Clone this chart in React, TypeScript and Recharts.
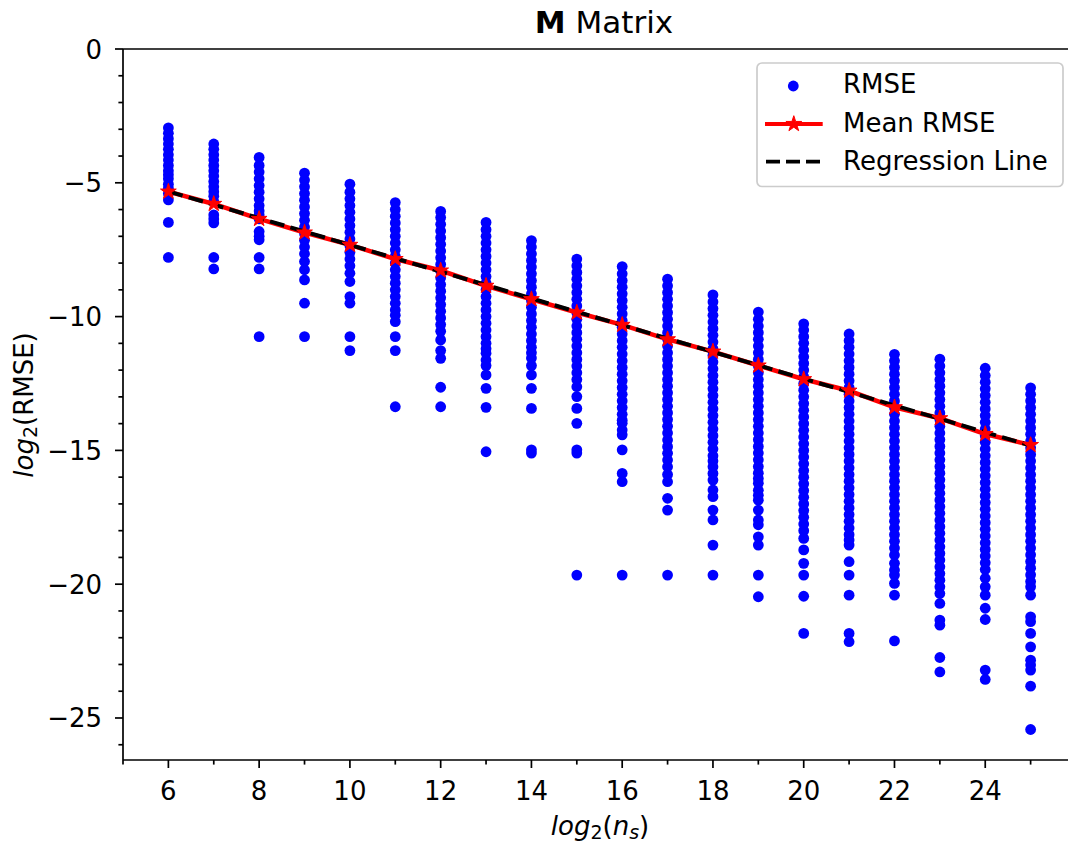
import React from 'react';
import { ComposedChart, Scatter, Line, XAxis, YAxis, ReferenceLine, Label } from 'recharts';

// ---- data ----
const nsLog2 = [6, 7, 8, 9, 10, 11, 12, 13, 14, 15, 16, 17, 18, 19, 20, 21, 22, 23, 24, 25];

const rmseAt6 = [-2.95, -3.15, -3.35, -3.55, -3.75, -3.95, -4.15, -4.35, -4.55, -4.7, -4.85, -5.05, -5.2, -5.4, -5.64, -6.48, -7.79];
const rmseAt7 = [-3.55, -3.75, -3.95, -4.15, -4.35, -4.55, -4.75, -4.95, -5.15, -5.33, -5.5, -5.7, -6.2, -6.35, -6.5, -7.79, -8.22];
const rmseAt8 = [-4.05, -4.35, -4.6, -4.85, -5.1, -5.35, -5.6, -5.85, -6.05, -6.2, -6.35, -6.82, -7.0, -7.13, -7.79, -8.22, -10.75];
const rmseAt9 = [-4.64, -4.9, -5.15, -5.4, -5.65, -5.9, -6.15, -6.4, -6.65, -6.9, -7.15, -7.4, -7.65, -7.94, -8.25, -8.63, -9.5, -10.75];
const rmseAt10 = [-5.05, -5.35, -5.6, -5.85, -6.1, -6.35, -6.6, -6.85, -7.1, -7.35, -7.6, -7.85, -8.1, -8.38, -8.69, -9.25, -9.5, -10.75, -11.27];
const rmseAt11 = [-5.74, -6.0, -6.25, -6.5, -6.75, -7.0, -7.25, -7.5, -7.75, -8.0, -8.25, -8.5, -8.75, -9.0, -9.25, -9.5, -9.75, -9.95, -10.19, -10.75, -11.27, -13.37];
const rmseAt12 = [-6.07, -6.3, -6.55, -6.8, -7.05, -7.3, -7.55, -7.8, -8.05, -8.3, -8.55, -8.8, -9.05, -9.3, -9.55, -9.8, -10.05, -10.3, -10.55, -10.87, -11.27, -11.56, -12.64, -13.37];
const rmseAt13 = [-6.48, -6.75, -7.0, -7.25, -7.5, -7.75, -8.0, -8.25, -8.5, -8.75, -9.0, -9.25, -9.5, -9.75, -10.0, -10.25, -10.5, -10.75, -11.0, -11.2, -11.37, -11.62, -11.83, -12.18, -12.68, -13.39, -15.05];
const rmseAt14 = [-7.16, -7.4, -7.65, -7.9, -8.15, -8.4, -8.65, -8.9, -9.15, -9.4, -9.65, -9.9, -10.15, -10.4, -10.65, -10.9, -11.15, -11.35, -11.55, -11.83, -12.18, -12.68, -13.43, -14.98, -15.1];
const rmseAt15 = [-7.85, -8.1, -8.35, -8.6, -8.85, -9.1, -9.35, -9.6, -9.85, -10.1, -10.35, -10.6, -10.85, -11.1, -11.35, -11.6, -11.85, -12.1, -12.35, -12.62, -12.99, -13.43, -13.99, -14.98, -15.1, -19.66];
const rmseAt16 = [-8.13, -8.4, -8.65, -8.9, -9.15, -9.4, -9.65, -9.9, -10.15, -10.4, -10.65, -10.9, -11.15, -11.4, -11.65, -11.9, -12.15, -12.4, -12.65, -12.9, -13.15, -13.4, -13.65, -13.87, -13.99, -14.24, -14.42, -14.98, -15.86, -16.17, -19.66];
const rmseAt17 = [-8.6, -8.85, -9.1, -9.35, -9.6, -9.85, -10.1, -10.35, -10.6, -10.85, -11.1, -11.35, -11.6, -11.85, -12.1, -12.35, -12.6, -12.85, -13.1, -13.35, -13.6, -13.85, -14.1, -14.35, -14.61, -14.86, -15.11, -15.36, -15.61, -15.9, -16.17, -16.79, -17.23, -19.66];
const rmseAt18 = [-9.19, -9.45, -9.7, -9.95, -10.2, -10.45, -10.7, -10.95, -11.2, -11.45, -11.7, -11.95, -12.2, -12.45, -12.7, -12.95, -13.2, -13.45, -13.7, -13.95, -14.2, -14.45, -14.7, -14.95, -15.2, -15.4, -15.61, -15.86, -16.11, -16.48, -16.73, -17.23, -17.6, -18.54, -19.66];
const rmseAt19 = [-9.83, -10.1, -10.35, -10.6, -10.85, -11.1, -11.35, -11.6, -11.85, -12.1, -12.35, -12.6, -12.85, -13.1, -13.35, -13.6, -13.85, -14.1, -14.35, -14.6, -14.85, -15.1, -15.35, -15.6, -15.85, -16.05, -16.23, -16.49, -16.68, -16.86, -17.23, -17.6, -17.78, -18.23, -18.54, -19.66, -20.47];
const rmseAt20 = [-10.27, -10.5, -10.75, -11.0, -11.25, -11.5, -11.75, -12.0, -12.25, -12.5, -12.75, -13.0, -13.25, -13.5, -13.75, -14.0, -14.25, -14.5, -14.75, -15.0, -15.25, -15.5, -15.75, -16.0, -16.25, -16.5, -16.75, -17.0, -17.25, -17.5, -17.75, -18.0, -18.29, -18.72, -19.22, -19.66, -20.45, -21.84];
const rmseAt21 = [-10.65, -10.9, -11.15, -11.4, -11.65, -11.9, -12.15, -12.4, -12.65, -12.9, -13.15, -13.4, -13.65, -13.9, -14.15, -14.4, -14.65, -14.9, -15.15, -15.4, -15.65, -15.9, -16.15, -16.4, -16.65, -16.9, -17.15, -17.4, -17.65, -17.9, -18.15, -18.35, -18.54, -19.16, -19.66, -20.41, -21.84, -22.15];
const rmseAt22 = [-11.41, -11.65, -11.9, -12.15, -12.4, -12.65, -12.9, -13.15, -13.4, -13.65, -13.9, -14.15, -14.4, -14.65, -14.9, -15.15, -15.4, -15.65, -15.9, -16.15, -16.4, -16.65, -16.9, -17.15, -17.4, -17.65, -17.9, -18.15, -18.4, -18.65, -18.91, -19.22, -19.47, -19.66, -19.97, -20.41, -22.12];
const rmseAt23 = [-11.59, -11.85, -12.1, -12.35, -12.6, -12.85, -13.1, -13.35, -13.6, -13.85, -14.1, -14.35, -14.6, -14.85, -15.1, -15.35, -15.6, -15.85, -16.1, -16.35, -16.6, -16.85, -17.1, -17.35, -17.6, -17.85, -18.1, -18.35, -18.6, -18.85, -19.1, -19.35, -19.6, -19.85, -20.1, -20.35, -20.72, -21.34, -21.53, -22.74, -23.28];
const rmseAt24 = [-11.93, -12.2, -12.45, -12.7, -12.95, -13.2, -13.45, -13.7, -13.95, -14.2, -14.45, -14.7, -14.95, -15.2, -15.45, -15.7, -15.95, -16.2, -16.45, -16.7, -16.95, -17.2, -17.45, -17.7, -17.95, -18.2, -18.45, -18.7, -18.95, -19.2, -19.45, -19.78, -20.1, -20.41, -20.9, -21.32, -23.21, -23.56];
const rmseAt25 = [-12.66, -12.9, -13.15, -13.4, -13.65, -13.9, -14.15, -14.4, -14.65, -14.9, -15.15, -15.4, -15.65, -15.9, -16.15, -16.4, -16.65, -16.9, -17.15, -17.4, -17.65, -17.9, -18.15, -18.4, -18.65, -18.9, -19.15, -19.4, -19.65, -19.9, -20.1, -20.41, -21.22, -21.4, -21.84, -22.34, -22.84, -23.02, -23.21, -23.81, -25.43];

const rmseColumns = [rmseAt6, rmseAt7, rmseAt8, rmseAt9, rmseAt10, rmseAt11, rmseAt12, rmseAt13, rmseAt14, rmseAt15, rmseAt16, rmseAt17, rmseAt18, rmseAt19, rmseAt20, rmseAt21, rmseAt22, rmseAt23, rmseAt24, rmseAt25];

const meanRmse = [-5.33, -5.79, -6.35, -6.86, -7.32, -7.85, -8.28, -8.85, -9.35, -9.85, -10.31, -10.85, -11.31, -11.83, -12.34, -12.77, -13.39, -13.8, -14.39, -14.8];

const regressionX = [6, 25];
const regressionY = [-5.32, -14.82];

const xTicks = [5, 6, 7, 8, 9, 10, 11, 12, 13, 14, 15, 16, 17, 18, 19, 20, 21, 22, 23, 24, 25, 26];
const yTicks = [0, -1, -2, -3, -4, -5, -6, -7, -8, -9, -10, -11, -12, -13, -14, -15, -16, -17, -18, -19, -20, -21, -22, -23, -24, -25, -26];

// ---- derived tables ----
const scatterData = rmseColumns.flatMap((col, i) => col.map((v) => ({ x: nsLog2[i], y: v })));
const meanData = nsLog2.map((x, i) => ({ x, y: meanRmse[i] }));
const regressionData = regressionX.map((x, i) => ({ x, y: regressionY[i] }));

const FONT = 'DejaVu Sans';
const FS = 26;
const BLUE = '#0000ff';
const RED = '#ff0000';

function starPath(cx: number, cy: number, r: number) {
  const inner = r * 0.381966;
  let d = '';
  for (let k = 0; k < 10; k++) {
    const rad = k % 2 === 0 ? r : inner;
    const a = (-90 + k * 36) * Math.PI / 180;
    const px = cx + rad * Math.cos(a);
    const py = cy + rad * Math.sin(a);
    d += (k === 0 ? 'M' : 'L') + px.toFixed(2) + ',' + py.toFixed(2);
  }
  return d + 'Z';
}

const fmt = (v: number) => String(v).replace('-', '\u2212');

const XTick = (props: any) => {
  const { x, y, payload } = props;
  const v = payload.value;
  const major = v % 2 === 0;
  return (
    <g>
      <line x1={x} x2={x} y1={y} y2={y + (major ? 8 : 4.6)} stroke="#000" strokeWidth={1.7} />
      {major && v <= 24 ? (
        <text x={x} y={y + 40} textAnchor="middle" fontSize={FS} fontFamily={FONT} fill="#000">{fmt(v)}</text>
      ) : null}
    </g>
  );
};

const YTick = (props: any) => {
  const { x, y, payload } = props;
  const v = payload.value;
  const major = v % 5 === 0;
  return (
    <g>
      <line x1={x} x2={x - (major ? 8 : 4.6)} y1={y} y2={y} stroke="#000" strokeWidth={1.7} />
      {major ? (
        <text x={x - 21} y={y + 9.5} textAnchor="end" fontSize={FS} fontFamily={FONT} fill="#000">{fmt(v)}</text>
      ) : null}
    </g>
  );
};

const Dot = (props: any) => {
  const { cx, cy } = props;
  if (cx == null || cy == null) return <g />;
  return <circle cx={cx} cy={cy} r={5.4} fill={BLUE} />;
};

const Star = (props: any) => {
  const { cx, cy, index } = props;
  if (cx == null || cy == null) return <g key={index} />;
  return <path key={index} d={starPath(cx, cy, 8.3)} fill={RED} stroke={RED} strokeWidth={1} />;
};

const XLabel = () => (
  <text x={600} y={835} textAnchor="middle" fontSize={FS} fontFamily={FONT} fill="#000">
    <tspan fontStyle="italic">log</tspan>
    <tspan fontSize={19} dy={4}>2</tspan>
    <tspan dy={-4}>(</tspan>
    <tspan fontStyle="italic">n</tspan>
    <tspan fontStyle="italic" fontSize={19} dy={4}>s</tspan>
    <tspan dy={-4}>)</tspan>
  </text>
);

const YLabel = () => (
  <text x={33} y={405} transform="rotate(-90 33 405)" textAnchor="middle" fontSize={FS} fontFamily={FONT} fill="#000">
    <tspan fontStyle="italic">log</tspan>
    <tspan fontSize={19} dy={4}>2</tspan>
    <tspan dy={-4}>(RMSE)</tspan>
  </text>
);

export default function App() {
  return (
    <div style={{ position: 'absolute', left: 0, top: 0, width: 1068, height: 846, overflow: 'hidden', background: '#fff' }}>
      <ComposedChart width={1100} height={846} margin={{ top: 49, right: 24, bottom: 0, left: 0 }}>
        <XAxis
          type="number"
          dataKey="x"
          domain={[5, 26]}
          ticks={xTicks}
          interval={0}
          height={86}
          tickSize={0}
          tickMargin={0}
          tickLine={false}
          tick={XTick}
          axisLine={{ stroke: '#000', strokeWidth: 1.7 }}
          allowDataOverflow
        >
          <Label content={XLabel} />
        </XAxis>
        <YAxis
          type="number"
          dataKey="y"
          domain={[-26.57, 0]}
          ticks={yTicks}
          interval={0}
          width={123}
          tickSize={0}
          tickMargin={0}
          tickLine={false}
          tick={YTick}
          axisLine={{ stroke: '#000', strokeWidth: 1.7 }}
          allowDataOverflow
        >
          <Label content={YLabel} />
        </YAxis>
        <ReferenceLine y={0} stroke="#000" strokeWidth={1.7} />
        <Scatter name="RMSE" data={scatterData} dataKey="y" shape={Dot} isAnimationActive={false} zIndex={100} />
        <Line
          name="Mean RMSE"
          data={meanData}
          dataKey="y"
          type="linear"
          stroke={RED}
          strokeWidth={4.6}
          dot={Star}
          activeDot={false}
          isAnimationActive={false}
          zIndex={450}
        />
        <Line
          name="Regression Line"
          data={regressionData}
          dataKey="y"
          type="linear"
          stroke="#000"
          strokeWidth={4}
          strokeDasharray="14.8 6.4"
          dot={false}
          activeDot={false}
          isAnimationActive={false}
          zIndex={460}
        />
      </ComposedChart>

      <svg width={1068} height={846} style={{ position: 'absolute', left: 0, top: 0, pointerEvents: 'none' }}>
        <text x={604} y={33} textAnchor="middle" fontSize={31} fontFamily={FONT} fill="#000">
          <tspan fontWeight="bold">M</tspan>
          <tspan> Matrix</tspan>
        </text>
        <g>
          <rect x={757} y={63} width={306} height={123.5} rx={5} ry={5} fill="rgba(255,255,255,0.8)" stroke="#cccccc" strokeWidth={1.7} />
          <circle cx={793.3} cy={86} r={5.4} fill={BLUE} />
          <text x={843} y={93.3} fontSize={FS} fontFamily={FONT} fill="#000">RMSE</text>
          <line x1={765} x2={822.7} y1={124} y2={124} stroke={RED} strokeWidth={4} />
          <path d={starPath(793.8, 124, 8.3)} fill={RED} stroke={RED} strokeWidth={1} />
          <text x={843} y={131.7} fontSize={FS} fontFamily={FONT} fill="#000">Mean RMSE</text>
          <line x1={766} x2={822.7} y1={161.7} y2={161.7} stroke="#000" strokeWidth={3.8} strokeDasharray="14 6" />
          <text x={843} y={170} fontSize={FS} fontFamily={FONT} fill="#000">Regression Line</text>
        </g>
      </svg>
    </div>
  );
}
